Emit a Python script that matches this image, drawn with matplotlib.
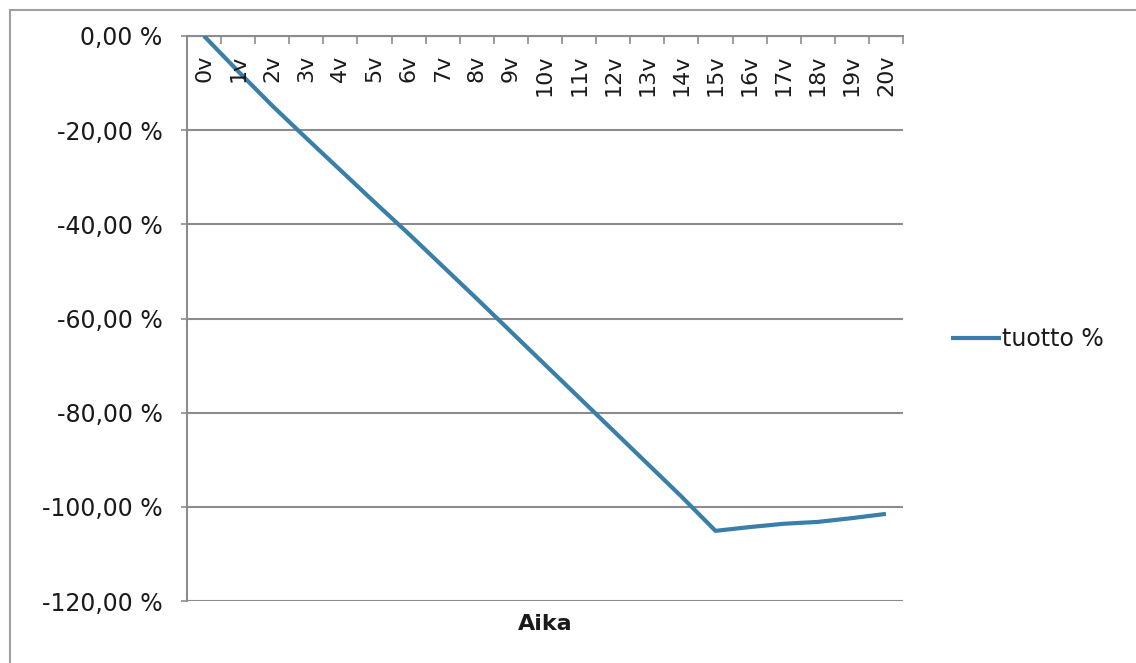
import numpy as np
import matplotlib
matplotlib.use("Agg")
import matplotlib.pyplot as plt
from matplotlib.patches import Rectangle
from matplotlib.transforms import ScaledTranslation

# tuotto % per vuosi
years = [f"{i}v" for i in range(21)]
tuotto = [0.0, -7.5, -14.8, -21.7, -28.5, -35.3, -42.0, -48.9, -55.8, -62.8,
          -69.8, -76.8, -83.8, -90.8, -97.8, -105.1, -104.3, -103.6, -103.2,
          -102.4, -101.5]
yticks = [0, -20, -40, -60, -80, -100, -120]

line_col = "#3a7fa9"
grid_col = "#8c8c8c"
txt_col = "#1a1a1a"

plt.rcParams["font.family"] = ["DejaVu Sans"]
plt.rcParams["font.size"] = 16

W, H = 1136, 663
fig = plt.figure(figsize=(W / 100, H / 100), dpi=100)
ax = fig.add_axes([187 / W, 1 - 601 / H, (903 - 187) / W, (601 - 36) / H])

x = np.arange(len(years))
ln, = ax.plot(x, tuotto, color=line_col, lw=3.0, solid_capstyle="butt",
              label="tuotto %", zorder=3)

ax.set_xlim(-0.5, len(years) - 0.5)
ax.set_ylim(-120, 0)
ax.set_yticks(yticks)
ax.set_yticklabels([f"{v:.2f} %".replace(".", ",") for v in yticks],
                   color=txt_col, fontsize=17)
ax.yaxis.grid(True, color=grid_col, lw=1.5)
ax.set_axisbelow(True)

# category ticks sit on the boundaries along the zero line
ax.set_xticks([])
ax.set_xticks(np.arange(-0.5, len(years), 1), minor=True)
ax.tick_params(axis="x", which="minor", top=True, bottom=False, direction="in",
               length=6, width=1.2, color=grid_col, labelbottom=False)
ax.tick_params(axis="y", direction="out", length=4.5, width=1.2, color=grid_col,
               pad=13)

for side in ["right", "bottom"]:
    ax.spines[side].set_visible(False)
for side in ["left", "top"]:
    ax.spines[side].set_color(grid_col)
    ax.spines[side].set_linewidth(1.5)

off = ax.transData + ScaledTranslation(0, -0.19, fig.dpi_scale_trans)
for i, lab in enumerate(years):
    ax.text(i, 0, lab, rotation=90, ha="center", va="top", transform=off,
            color=txt_col, fontsize=16)

ax.set_xlabel("Aika", fontweight="bold", fontsize=16, labelpad=9, color=txt_col)

fig.legend(handles=[ln], loc="center left", bbox_to_anchor=(930 / W, 1 - 339 / H),
           frameon=False, handlelength=2.1, handletextpad=0.05, fontsize=17,
           labelcolor=txt_col)

fig.patches.append(Rectangle((10 / W, -0.1), 1.2, 1 - 10 / H + 0.1,
                             transform=fig.transFigure, fill=False,
                             edgecolor="#a0a0a0", lw=1.5))

fig.savefig("out.png", dpi=100)
